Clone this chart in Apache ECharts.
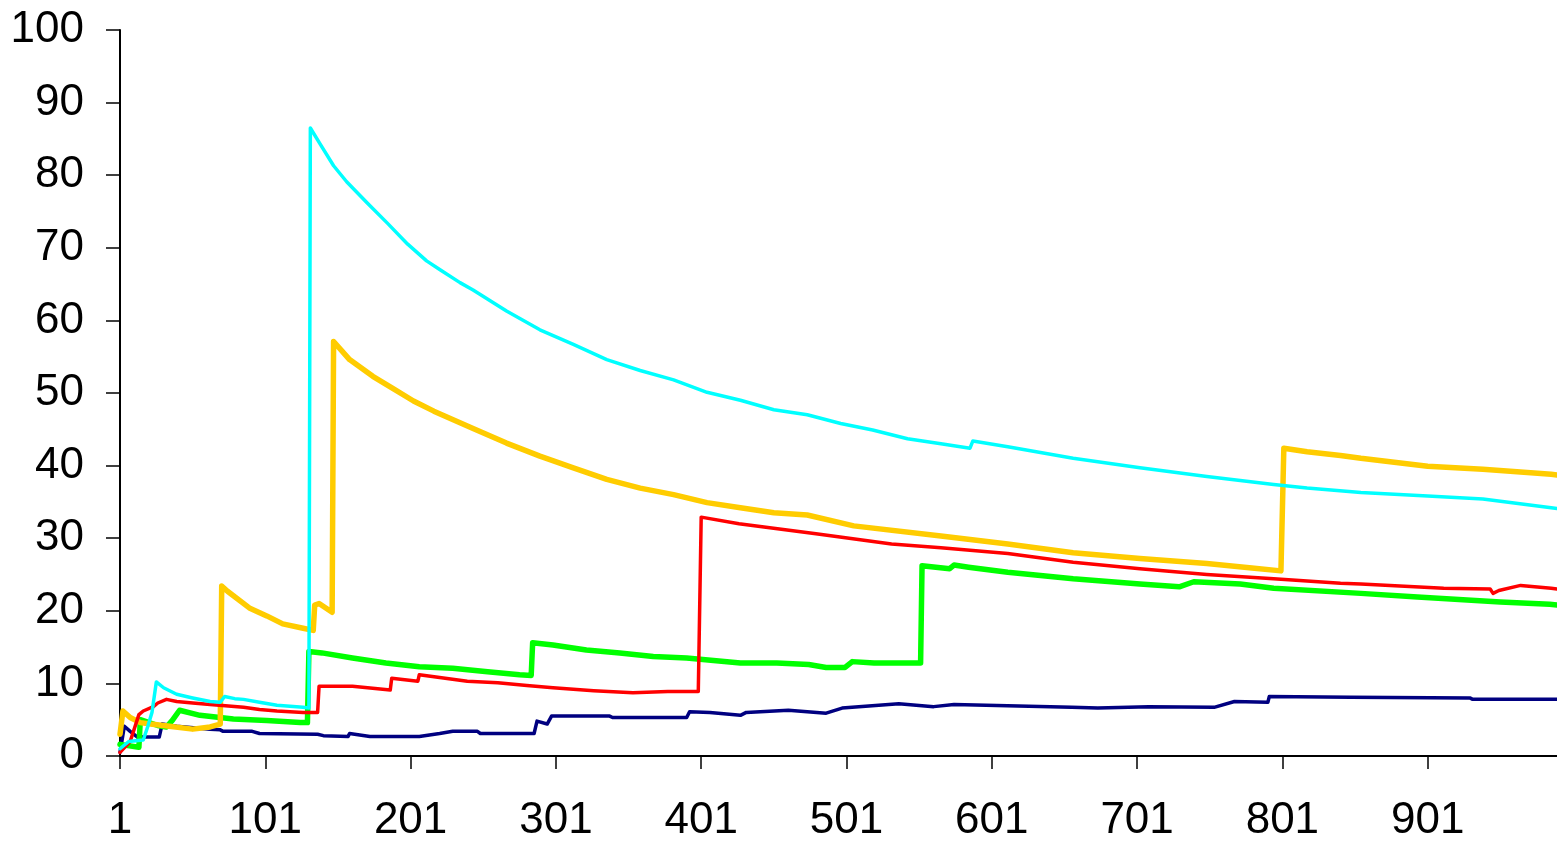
<!DOCTYPE html>
<html>
<head>
<meta charset="utf-8">
<script src="https://cdn.jsdelivr.net/npm/echarts@6/dist/echarts.min.js"></script>
<style>
html,body{margin:0;padding:0;background:#fff;overflow:hidden;}
#chart{width:1557px;height:843px;}
</style>
</head>
<body>
<div id="chart"></div>
<script>
// x tick labels (observation number)
const xTicks = [1, 101, 201, 301, 401, 501, 601, 701, 801, 901];
const xMax = 990;
const yTicks = [0, 10, 20, 30, 40, 50, 60, 70, 80, 90, 100];

const navySeries = [[1,0.5],[4,4.1],[8,3.4],[13,2.6],[28,2.6],[30,4.4],[40,4.1],[63,3.7],[70,3.6],[72,3.4],[92,3.4],[97,3.1],[137,3.0],[141,2.8],[158,2.7],[159,3.1],[173,2.7],[207,2.7],[221,3.1],[230,3.4],[247,3.4],[249,3.1],[286,3.1],[288,4.8],[295,4.4],[298,5.5],[338,5.5],[340,5.3],[391,5.3],[393,6.1],[407,6.0],[428,5.6],[432,6.0],[461,6.3],[487,5.9],[498,6.6],[537,7.2],[561,6.8],[575,7.1],[656,6.7],[674,6.6],[709,6.8],[754,6.7],[768,7.5],[791,7.4],[792,8.2],[848,8.1],[930,8.0],[932,7.8],[990,7.8]];

const greenSeries = [[1,1.6],[14,1.2],[15,5.0],[27,4.2],[33,4.0],[37,4.9],[42,6.3],[56,5.6],[79,5.1],[102,4.9],[125,4.6],[130,4.6],[131,14.4],[140,14.2],[161,13.5],[184,12.8],[207,12.3],[230,12.1],[254,11.6],[276,11.2],[284,11.1],[285,15.6],[299,15.3],[322,14.6],[345,14.2],[368,13.7],[391,13.5],[428,12.8],[453,12.8],[475,12.6],[487,12.2],[500,12.2],[505,13.0],[520,12.8],[552,12.8],[553,26.2],[572,25.8],[575,26.3],[585,26.0],[612,25.3],[657,24.4],[703,23.7],[730,23.3],[740,24.0],[772,23.7],[795,23.1],[855,22.4],[894,21.9],[951,21.2],[985,20.9],[990,20.8]];

const goldSeries = [[1,3.0],[3,6.2],[8,5.3],[15,4.6],[22,4.4],[35,4.1],[51,3.7],[63,4.0],[70,4.4],[71,23.4],[75,22.7],[90,20.4],[102,19.3],[113,18.2],[127,17.6],[134,17.3],[135,20.8],[138,21.0],[147,19.8],[148,57.1],[159,54.6],[175,52.3],[189,50.6],[203,48.9],[217,47.5],[244,45.1],[267,43.1],[290,41.3],[313,39.7],[336,38.1],[359,36.9],[382,36.0],[405,34.9],[428,34.2],[451,33.5],[474,33.2],[506,31.7],[566,30.3],[612,29.2],[657,28.0],[703,27.2],[749,26.5],[780,25.9],[800,25.5],[802,42.4],[818,41.9],[841,41.4],[855,41.0],[901,39.9],[939,39.5],[986,38.8],[990,38.7]];

const redSeries = [[1,0.5],[8,2.0],[14,5.7],[17,6.2],[24,6.8],[27,7.3],[33,7.8],[40,7.5],[51,7.3],[63,7.1],[86,6.7],[97,6.4],[109,6.2],[127,6.0],[137,6.0],[138,9.6],[161,9.6],[187,9.1],[188,10.7],[206,10.3],[207,11.2],[221,10.8],[240,10.3],[261,10.1],[281,9.7],[299,9.4],[327,9.0],[354,8.7],[378,8.9],[399,8.9],[401,32.9],[427,32.0],[480,30.6],[532,29.2],[566,28.7],[612,27.9],[657,26.7],[703,25.8],[749,25.0],[795,24.4],[841,23.8],[855,23.7],[912,23.1],[944,23.0],[946,22.4],[950,22.8],[965,23.5],[986,23.1],[990,23.0]];

const cyanSeries = [[1,1.0],[7,2.0],[17,2.2],[20,4.0],[23,6.0],[26,10.2],[31,9.4],[40,8.5],[51,8.0],[63,7.5],[70,7.4],[73,8.2],[80,7.9],[86,7.8],[97,7.4],[109,7.0],[127,6.7],[131,6.6],[132,86.5],[139,84.2],[148,81.3],[157,79.1],[171,76.2],[185,73.4],[199,70.5],[212,68.2],[221,67.0],[235,65.2],[244,64.2],[267,61.3],[290,58.7],[313,56.7],[336,54.6],[359,53.1],[382,51.8],[405,50.1],[428,49.0],[451,47.7],[474,47.0],[497,45.8],[519,44.9],[543,43.7],[566,43.0],[586,42.4],[588,43.4],[612,42.6],[657,41.0],[703,39.7],[749,38.5],[795,37.4],[818,36.9],[855,36.3],[901,35.8],[939,35.4],[986,34.2],[990,34.1]];

const chart = echarts.init(document.getElementById('chart'), null, {renderer: 'canvas'});
const FONT = 'Liberation Sans, Arial, sans-serif';
function line(name, data, color, width) {
  return {name, type: 'line', data, symbol: 'none', smooth: false,
    lineStyle: {color, width, join: 'round', cap: 'round'}, itemStyle: {color}};
}
chart.setOption({
  animation: false,
  backgroundColor: '#fff',
  grid: {left: 120, right: 0, top: 30, bottom: 81, containLabel: false},
  xAxis: {
    type: 'value', min: 1, max: xMax, interval: 100,
    axisLine: {show: true, lineStyle: {color: '#000', width: 2}},
    axisTick: {show: true, inside: false, length: 13, lineStyle: {color: '#000', width: 1.5}, customValues: xTicks},
    axisLabel: {show: true, margin: 43, fontSize: 44, fontFamily: FONT, color: '#000', customValues: xTicks},
    splitLine: {show: false}
  },
  yAxis: {
    type: 'value', min: yTicks[0], max: yTicks[yTicks.length - 1], interval: 10,
    axisLine: {show: true, lineStyle: {color: '#000', width: 2}},
    axisTick: {show: true, inside: false, length: 14, lineStyle: {color: '#000', width: 1.5}},
    axisLabel: {show: true, margin: 36, fontSize: 44, fontFamily: FONT, color: '#000'},
    splitLine: {show: false}
  },
  series: [
    line('Series 5', navySeries, '#000080', 3.5),
    line('Series 4', greenSeries, '#00FF00', 5.5),
    line('Series 3', goldSeries, '#FFCC00', 5.5),
    line('Series 2', redSeries, '#FF0000', 3.5),
    line('Series 1', cyanSeries, '#00FFFF', 3.5)
  ]
});
</script>
</body>
</html>
